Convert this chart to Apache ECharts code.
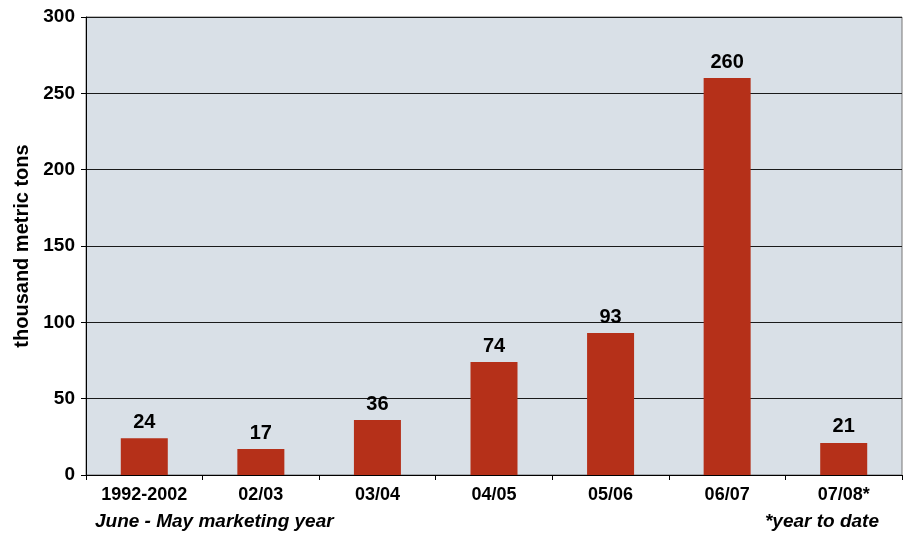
<!DOCTYPE html>
<html><head><meta charset="utf-8">
<script src="https://cdn.jsdelivr.net/npm/echarts@6/dist/echarts.min.js"></script>
<style>html,body{margin:0;padding:0;background:#fff;}#c{width:908px;height:535px;}</style>
</head><body><div id="c"></div>
<script>
const categories = ['1992-2002','02/03','03/04','04/05','05/06','06/07','07/08*'];
const values = [24,17,36,74,93,260,21];
const yTicks = [0,50,100,150,200,250,300];

const FF = '"Liberation Sans", Arial, sans-serif';
const chart = echarts.init(document.getElementById('c'), null, {renderer:'canvas'});
chart.setOption({
  animation:false,
  grid:{left:86,right:6,top:17,bottom:60,show:true,backgroundColor:'#D9E0E7',borderColor:'#777',borderWidth:1},
  xAxis:{type:'category',data:categories,
    axisLine:{lineStyle:{color:'#000',width:1}},
    axisTick:{show:true,length:5,lineStyle:{color:'#000'}},
    axisLabel:{color:'#000',fontFamily:FF,fontWeight:'bold',fontSize:18,margin:11}},
  yAxis:{type:'value',min:yTicks[0],max:yTicks[yTicks.length-1],interval:50,
    name:'thousand metric tons',nameLocation:'middle',nameGap:52,
    nameTextStyle:{color:'#000',fontFamily:FF,fontWeight:'bold',fontSize:20},
    axisLine:{show:true,lineStyle:{color:'#000'}},
    axisTick:{show:true,length:5,lineStyle:{color:'#000'}},
    splitLine:{show:true,lineStyle:{color:'#1a1a1a',width:1}},
    axisLabel:{color:'#000',fontFamily:FF,fontWeight:'bold',fontSize:19,margin:11}},
  series:[{type:'bar',data:values,barWidth:47,itemStyle:{color:'#B53019'},
    label:{show:true,position:'top',distance:6,color:'#000',fontFamily:FF,fontWeight:'bold',fontSize:20}}],
  graphic:[
    {type:'text',left:95,top:512,style:{text:'June - May marketing year',fill:'#000',font:'italic bold 19px "Liberation Sans", Arial'}},
    {type:'text',right:29,top:512,style:{text:'*year to date',fill:'#000',font:'italic bold 19px "Liberation Sans", Arial'}}
  ]
});
</script></body></html>
